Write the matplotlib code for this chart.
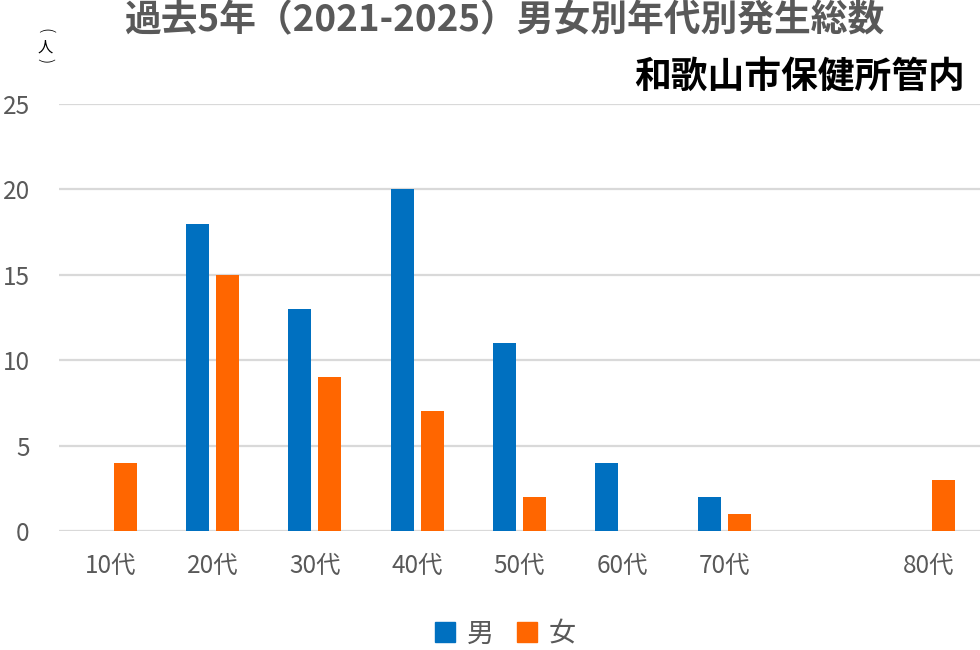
import matplotlib
matplotlib.use("Agg")
import matplotlib.pyplot as plt
from matplotlib.lines import Line2D
import numpy as np

plt.rcParams['font.family'] = ['Noto Sans CJK JP', 'DejaVu Sans']

categories = ['10代', '20代', '30代', '40代', '50代', '60代', '70代', '', '80代']
male = [0, 18, 13, 20, 11, 4, 2, 0, 0]
female = [4, 15, 9, 7, 2, 0, 1, 0, 3]
yticks = [0, 5, 10, 15, 20, 25]

blue = '#0070C0'
orange = '#FF6600'
grey = '#595959'

fig = plt.figure(figsize=(9.8, 6.5), dpi=100)
ax = fig.add_axes([59/980, 1-531/650, 1-59/980, (531-104)/650])

x = np.arange(len(categories))
w = 0.225
off = 0.147
ax.bar(x - off, male, width=w, color=blue, zorder=3)
ax.bar(x + off, female, width=w, color=orange, zorder=3)

ax.set_xlim(-0.5, len(categories) - 0.5)
ax.set_ylim(0, 25)
ax.set_yticks(yticks)
ax.set_xticks(x)
ax.set_xticklabels(categories)
ax.yaxis.grid(True, color='#d9d9d9', linewidth=1.6, zorder=0)
ax.set_axisbelow(True)
for s in ax.spines.values():
    s.set_visible(False)
ax.tick_params(axis='both', length=0, colors=grey, labelsize=17.5)
ax.tick_params(axis='y', pad=21)
ax.tick_params(axis='x', pad=16)

fig.text(504/980, 1-21/650, '過去5年（2021-2025）男女別年代別発生総数',
         ha='center', va='center', fontsize=26.5, fontweight='bold', color=grey)
fig.text(965/980, 1-77/650, '和歌山市保健所管内',
         ha='right', va='center', fontsize=26.5, fontweight='bold', color='black')
# vertical y-axis unit label (人)
fig.text(45/980, 1-31/650, '(', ha='center', va='center', rotation=-90,
         fontsize=12, color='black', fontweight='light')
fig.text(45/980, 1-47/650, '人', ha='center', va='center',
         fontsize=11, color='black')
fig.text(45/980, 1-61/650, ')', ha='center', va='center', rotation=-90,
         fontsize=12, color='black', fontweight='light')

handles = [Line2D([], [], marker='s', linestyle='', markersize=14, color=blue),
           Line2D([], [], marker='s', linestyle='', markersize=14, color=orange)]
leg = fig.legend(handles, ['男', '女'], loc='center', bbox_to_anchor=(505/980, 1-634/650),
                 ncol=2, frameon=False, fontsize=19.5, handlelength=0.8,
                 handletextpad=0.4, columnspacing=0.8, borderpad=0.2)
for t in leg.get_texts():
    t.set_color(grey)

fig.savefig('out.png', dpi=100)
